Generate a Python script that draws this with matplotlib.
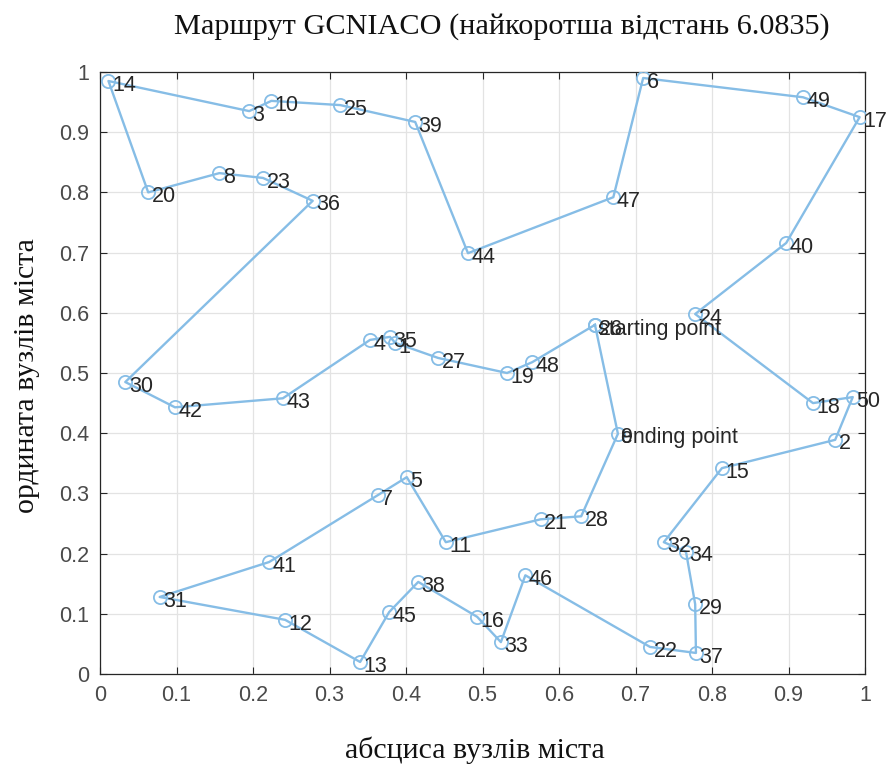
import matplotlib
matplotlib.use("Agg")
import matplotlib.pyplot as plt
from matplotlib.ticker import FuncFormatter, MultipleLocator

# City coordinates, indexed by city number (1..50)
city_ids = list(range(1, 51))
city_x = [0.386, 0.961, 0.195, 0.353, 0.401, 0.710, 0.363, 0.156, 0.677, 0.224,
          0.452, 0.242, 0.340, 0.011, 0.813, 0.493, 0.993, 0.932, 0.532, 0.063,
          0.576, 0.719, 0.213, 0.778, 0.314, 0.647, 0.442, 0.629, 0.778, 0.033,
          0.078, 0.737, 0.524, 0.766, 0.379, 0.278, 0.779, 0.416, 0.412, 0.897,
          0.221, 0.098, 0.239, 0.481, 0.378, 0.556, 0.671, 0.565, 0.919, 0.984]
city_y = [0.550, 0.389, 0.935, 0.555, 0.327, 0.990, 0.297, 0.832, 0.399, 0.952,
          0.219, 0.090, 0.020, 0.985, 0.342, 0.095, 0.925, 0.450, 0.500, 0.800,
          0.257, 0.045, 0.824, 0.598, 0.945, 0.580, 0.525, 0.262, 0.116, 0.485,
          0.128, 0.219, 0.053, 0.203, 0.560, 0.786, 0.035, 0.153, 0.917, 0.716,
          0.186, 0.443, 0.458, 0.699, 0.103, 0.164, 0.792, 0.518, 0.958, 0.460]

# Best tour found (city numbers), from the starting city to the ending city
route = [26, 48, 19, 27, 1, 35, 4, 43, 42, 30,
         36, 23, 8, 20, 14, 3, 10, 25, 39, 44,
         47, 6, 49, 17, 40, 24, 18, 50, 2, 15,
         32, 34, 29, 37, 22, 46, 33, 16, 38, 45,
         13, 12, 31, 41, 7, 5, 11, 21, 28, 9]

best_length = 6.0835
title_text = "Маршрут GCNIACO (найкоротша відстань {:.4f})".format(best_length)
x_label = "абсциса вузлів міста"
y_label = "ордината вузлів міста"
start_label = "starting point"
end_label = "ending point"

line_color = "#86bde6"
text_color = "#262626"
tick_color = "#4a4a4a"

fig = plt.figure(figsize=(8.86, 7.69), dpi=100)
ax = fig.add_axes([0.1129, 0.1235, 0.8634, 0.7829])

closed = route + [route[0]]
px = [city_x[c - 1] for c in closed]
py = [city_y[c - 1] for c in closed]
ax.plot(px, py, "-o", color=line_color, lw=1.7, markersize=9.5,
        markerfacecolor="none", markeredgewidth=1.3, zorder=3)

label_font = dict(family=["Liberation Sans", "DejaVu Sans"], size=15.5, color=text_color)
for cid, cx, cy in zip(city_ids, city_x, city_y):
    ax.annotate(str(cid), (cx, cy), xytext=(2.5, -3), textcoords="offset points",
                ha="left", va="center", zorder=4, **label_font)

s = route[0]
e = route[-1]
ax.annotate(start_label, (city_x[s - 1], city_y[s - 1]), xytext=(2.5, -3),
            textcoords="offset points", ha="left", va="center", zorder=4, **label_font)
ax.annotate(end_label, (city_x[e - 1], city_y[e - 1]), xytext=(2.5, -3),
            textcoords="offset points", ha="left", va="center", zorder=4, **label_font)

ax.set_xlim(0, 1)
ax.set_ylim(0, 1)
ax.xaxis.set_major_locator(MultipleLocator(0.1))
ax.yaxis.set_major_locator(MultipleLocator(0.1))
fmt = FuncFormatter(lambda v, p: "{:g}".format(round(v, 2)))
ax.xaxis.set_major_formatter(fmt)
ax.yaxis.set_major_formatter(fmt)
ax.grid(True, color="#e3e3e3", lw=0.9, zorder=0)
ax.set_axisbelow(True)
ax.tick_params(direction="in", top=True, right=True, length=5, width=0.8,
               color="#262626", labelsize=15.5, labelcolor=tick_color, pad=8)
for lab in ax.get_xticklabels() + ax.get_yticklabels():
    lab.set_family(["Liberation Sans", "DejaVu Sans"])
for sp in ax.spines.values():
    sp.set_color("#262626")
    sp.set_linewidth(0.9)

serif = ["Liberation Serif", "DejaVu Serif"]
fig.text(0.566, 0.966, title_text, ha="center", va="center",
         family=serif, size=21.8, color="#111111")
fig.text(0.536, 0.025, x_label, ha="center", va="center",
         family=serif, size=21.5, color="#111111")
fig.text(0.030, 0.512, y_label, ha="center", va="center", rotation=90,
         family=serif, size=21.5, color="#111111")

fig.savefig("out.png", dpi=100)
